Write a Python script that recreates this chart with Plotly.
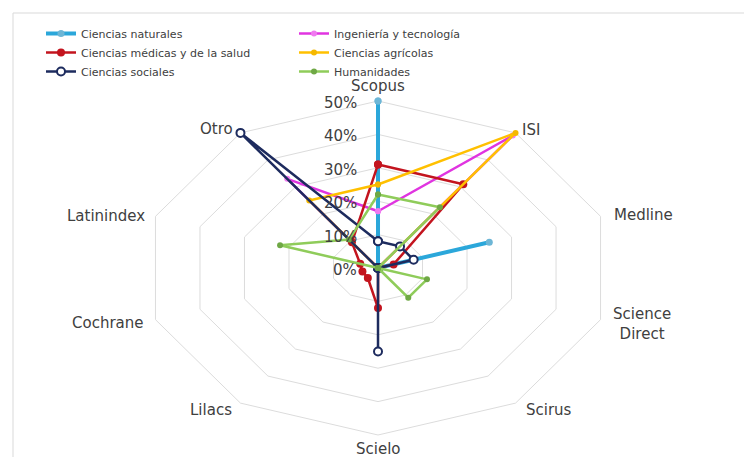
import numpy as np
import plotly.graph_objects as go

# ---------------- data ----------------
categories = ["Scopus", "ISI", "Medline", "Science<br>Direct", "Scirus",
              "Scielo", "Lilacs", "Cochrane", "Latinindex", "Otro"]
radial_ticks = [0, 10, 20, 30, 40, 50]
radial_tick_labels = ["0%", "10%", "20%", "30%", "40%", "50%"]

series_names = ["Ciencias naturales", "Ingeniería y tecnología",
                "Ciencias médicas y de la salud", "Ciencias agrícolas",
                "Ciencias sociales", "Humanidades"]
naturales = [50, 0, 25, 0, 0, 0, 0, 0, 0, 0]
ingenieria = [17, 49, 0, 0, 0, 0, 0, 0, 0, 33]
medicas = [31, 31, 3.5, 0, 0, 12, 3.7, 3.5, 4, 9.5]
agricolas = [25, 50, 0, 0, 0, 0, 0, 0, 0, 25]
sociales = [8, 8, 8, 0, 0, 25, 0, 0, 0, 50]
humanidades = [22, 22.5, 0, 11, 11, 0, 0, 0, 22, 10.5]
series_values = [naturales, ingenieria, medicas, agricolas, sociales, humanidades]

# ---------------- styles ----------------
colors = ["#2BA7DA", "#E034E0", "#C3141E", "#FFC000", "#1D2B5E", "#8FCC5A"]
line_widths = [4, 2.5, 2.5, 2.5, 2.5, 2.5]
markers = [
    dict(symbol="circle", size=7, color="#6DB6D6"),
    dict(symbol="circle", size=6, color="#F07AF0"),
    dict(symbol="circle", size=8, color="#C3141E"),
    dict(symbol="circle", size=6, color="#F5B800"),
    dict(symbol="circle", size=8, color="white", line=dict(color="#1D2B5E", width=2)),
    dict(symbol="circle", size=6, color="#6FA845"),
]
legend_ids = ["legend", "legend2", "legend", "legend2", "legend", "legend2"]

n = len(categories)
theta = np.arange(n) * 2 * np.pi / n


def to_xy(vals):
    r = np.array(list(vals) + [vals[0]], dtype=float)
    t = np.append(theta, theta[0])
    return r * np.sin(t), r * np.cos(t)


fig = go.Figure()

# grid decagons
for tv in radial_ticks[1:]:
    gx, gy = to_xy([tv] * n)
    fig.add_trace(go.Scatter(x=gx, y=gy, mode="lines",
                             line=dict(color="#DCDCDC", width=1),
                             hoverinfo="skip", showlegend=False))

# data series
for name, vals, c, lw, mk, lg in zip(series_names, series_values, colors,
                                     line_widths, markers, legend_ids):
    x, y = to_xy(vals)
    fig.add_trace(go.Scatter(x=x, y=y, mode="lines+markers", name=name,
                             legend=lg,
                             line=dict(color=c, width=lw),
                             marker=mk))

# category labels
rmax = radial_ticks[-1]
label_pos = [  # xanchor, yanchor, xshift, yshift
    ("center", "bottom", 0, 4),
    ("left", "middle", 4, 3),
    ("left", "middle", 11, 1),
    ("left", "middle", 10, -4),
    ("left", "middle", 8, -7),
    ("center", "top", 0, -3),
    ("right", "middle", -6, -7),
    ("right", "middle", -9, -3),
    ("right", "middle", -8, 0),
    ("right", "middle", -5, 4),
]
for cat, t, (xa, ya, xs, ys) in zip(categories, theta, label_pos):
    fig.add_annotation(x=rmax * np.sin(t), y=rmax * np.cos(t), text=cat,
                       showarrow=False, xanchor=xa, yanchor=ya,
                       xshift=xs, yshift=ys, align="center",
                       font=dict(family="DejaVu Sans", size=15, color="#404040"))

# radial tick labels
for tv, tl in zip(radial_ticks, radial_tick_labels):
    fig.add_annotation(x=0, y=tv, text=tl, showarrow=False,
                       xanchor="right", yanchor="middle", xshift=-19, yshift=-2,
                       font=dict(family="DejaVu Sans", size=15, color="#404040"))

# chart-area border
fig.add_shape(type="rect", xref="paper", yref="paper",
              x0=5 / 752, x1=1.05, y0=-0.05, y1=1 - 5 / 457,
              line=dict(color="#D9D9D9", width=1), layer="below")

legend_font = dict(family="DejaVu Sans", size=11, color="#404040")
fig.update_layout(
    width=752, height=457,
    margin=dict(l=0, r=0, t=0, b=0),
    paper_bgcolor="white", plot_bgcolor="white",
    xaxis=dict(range=[-79.06, 81.62], visible=False, fixedrange=True),
    yaxis=dict(range=[-58.98, 77.84], visible=False, fixedrange=True),
    legend=dict(x=33 / 752, y=1 - 11 / 457, xanchor="left", yanchor="top",
                bgcolor="rgba(0,0,0,0)", font=legend_font, itemwidth=30),
    legend2=dict(x=286 / 752, y=1 - 11 / 457, xanchor="left", yanchor="top",
                 bgcolor="rgba(0,0,0,0)", font=legend_font, itemwidth=30),
)

fig.write_html("out.html")
